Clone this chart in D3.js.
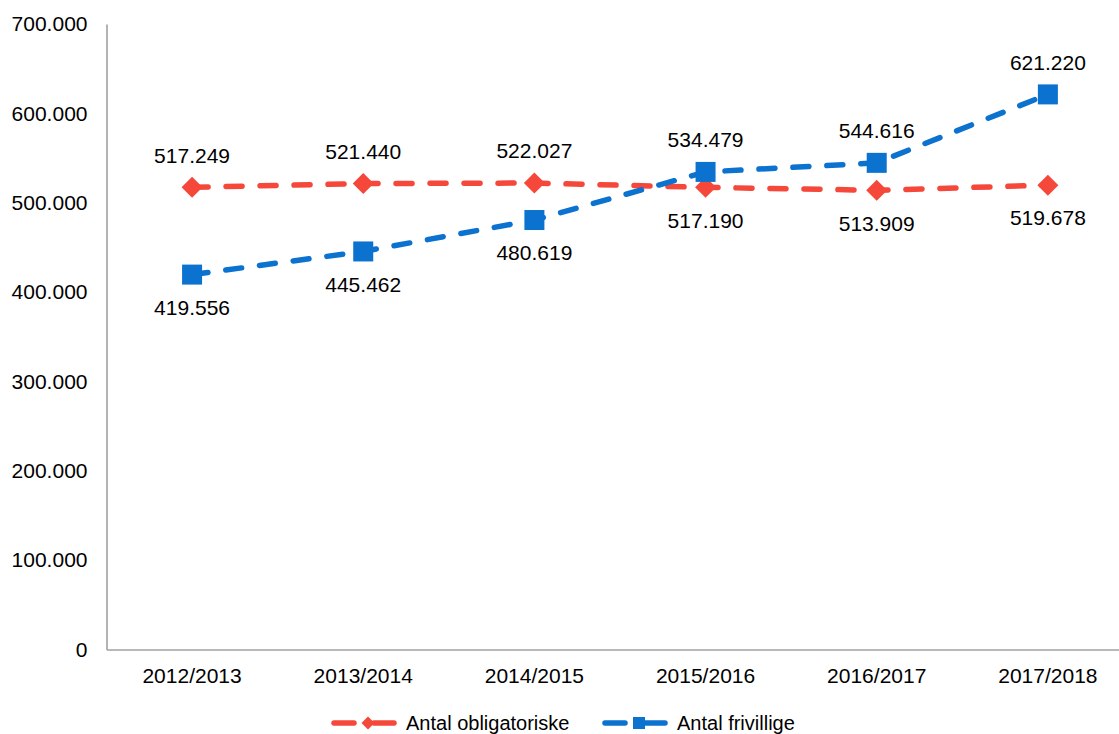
<!DOCTYPE html>
<html><head><meta charset="utf-8">
<script src="https://cdn.jsdelivr.net/npm/d3@7"></script>
<style>
html,body{margin:0;padding:0;background:#fff;}
svg{display:block;font-family:"Liberation Sans",Arial,sans-serif;}
</style></head>
<body><svg id="c" width="1119" height="734"></svg>
<script>
const categories = ["2012/2013","2013/2014","2014/2015","2015/2016","2016/2017","2017/2018"];
const obligatoriske = [517249, 521440, 522027, 517190, 513909, 519678];
const frivillige = [419556, 445462, 480619, 534479, 544616, 621220];
const seriesNames = ["Antal obligatoriske","Antal frivillige"];
const yTicks = [0,100000,200000,300000,400000,500000,600000,700000];

(function(){
const svg = d3.select("#c");
const mLeft = 106.5, mTop = 24, mBottom = 649.5, step = 171.16;
const x = d3.scalePoint().domain(categories).range([mLeft + step/2, mLeft + step*5.5]);
const y = d3.scaleLinear().domain([0,700000]).range([mBottom, mTop]);
const fmt = v => v === 0 ? "0" : d3.format(",")(v).replace(/,/g,".");
const axisColor = "#a0a0a0";
const fs = 21;

// Y axis
const ya = svg.append("g").attr("transform",`translate(${mLeft},0)`)
  .call(d3.axisLeft(y).tickValues(yTicks).tickSize(0).tickPadding(19).tickFormat(fmt));
ya.select(".domain").attr("stroke",axisColor).attr("stroke-width",1.6);
ya.selectAll("text").attr("font-size",fs).attr("fill","#000").attr("font-family","Liberation Sans, Arial, sans-serif");

// X axis
const xa = svg.append("g").attr("transform",`translate(0,${mBottom})`)
  .call(d3.axisBottom(d3.scaleLinear().domain([0,1]).range([mLeft, 1125])).tickValues([]).tickSize(0));
xa.select(".domain").attr("stroke",axisColor).attr("stroke-width",1.6);
svg.append("g").selectAll("text").data(categories).join("text")
  .attr("x", d => x(d)).attr("y", mBottom + 26).attr("dy","0.35em")
  .attr("text-anchor","middle").attr("font-size",fs).text(d => d);

const series = [
  {name: seriesNames[0], values: obligatoriske, color: "#f5473a", shape: "diamond"},
  {name: seriesNames[1], values: frivillige, color: "#0b72cf", shape: "square"}
];

const line = d3.line().x((d,i) => x(categories[i])).y(d => y(d));
series.forEach(s => {
  svg.append("path").datum(s.values).attr("d", line)
    .attr("fill","none").attr("stroke", s.color).attr("stroke-width",5.5)
    .attr("stroke-linecap","round").attr("stroke-dasharray","16,18");
});

function marker(g, shape, cx, cy, size, color){
  if (shape === "diamond") {
    const r = size/2;
    g.append("path").attr("d",`M${cx},${cy-r}L${cx+r},${cy}L${cx},${cy+r}L${cx-r},${cy}Z`).attr("fill",color);
  } else {
    g.append("rect").attr("x",cx-size/2).attr("y",cy-size/2).attr("width",size).attr("height",size).attr("fill",color);
  }
}

const mg = svg.append("g");
series.forEach(s => {
  s.values.forEach((v,i) => marker(mg, s.shape, x(categories[i]), y(v), s.shape==="diamond"?21:20, s.color));
});

// labels: higher series above, lower below
const lg = svg.append("g");
series.forEach((s,si) => {
  const other = series[1-si];
  s.values.forEach((v,i) => {
    const above = v >= other.values[i];
    lg.append("text").attr("x", x(categories[i])).attr("y", y(v) + (above ? -32 : 33))
      .attr("dy","0.35em").attr("text-anchor","middle").attr("font-size",fs).text(fmt(v));
  });
});

// Legend
const legend = svg.append("g");
const legY = 723;
const legX = [334, 605];
series.forEach((s,si) => {
  const x0 = legX[si];
  legend.append("line").attr("x1",x0).attr("x2",x0+20).attr("y1",legY).attr("y2",legY)
    .attr("stroke",s.color).attr("stroke-width",5.5).attr("stroke-linecap","round");
  legend.append("line").attr("x1",x0+40).attr("x2",x0+60).attr("y1",legY).attr("y2",legY)
    .attr("stroke",s.color).attr("stroke-width",5.5).attr("stroke-linecap","round");
  marker(legend, s.shape, x0+34, legY, s.shape==="diamond"?13:12, s.color);
  legend.append("text").attr("x", x0+72).attr("y", legY).attr("dy","0.35em")
    .attr("font-size",20).text(s.name);
});
})();
</script></body></html>
